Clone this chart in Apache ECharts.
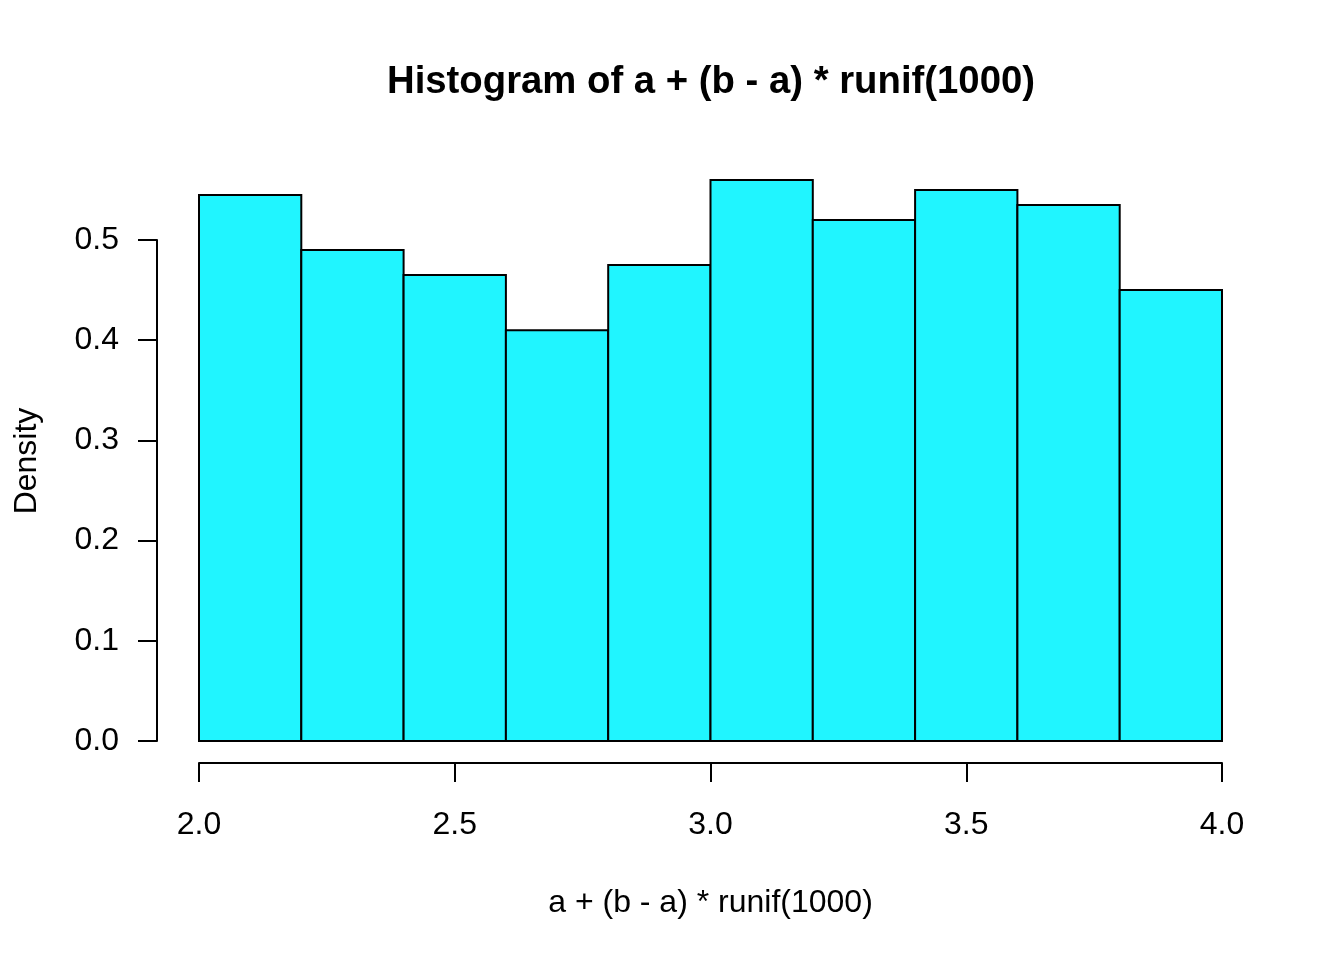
<!DOCTYPE html>
<html>
<head>
<meta charset="utf-8">
<script src="https://cdn.jsdelivr.net/npm/echarts@6/dist/echarts.min.js"></script>
<style>html,body{margin:0;padding:0;background:#fff;}#c{width:1344px;height:960px;}</style>
</head>
<body>
<div id="c"></div>
<script>
const breaksStart = [2.0, 2.2, 2.4, 2.6, 2.8, 3.0, 3.2, 3.4, 3.6, 3.8];
const breaksEnd   = [2.2, 2.4, 2.6, 2.8, 3.0, 3.2, 3.4, 3.6, 3.8, 4.0];
const density     = [0.545, 0.49, 0.465, 0.41, 0.475, 0.56, 0.52, 0.55, 0.535, 0.45];
const xTicks = [2.0, 2.5, 3.0, 3.5, 4.0];
const yTicks = [0.0, 0.1, 0.2, 0.3, 0.4, 0.5];
const titleText = 'Histogram of a + (b - a) * runif(1000)';
const xLabel = 'a + (b - a) * runif(1000)';
const yLabel = 'Density';

const FONT = "'Liberation Sans', Arial, Helvetica, sans-serif";
const chart = echarts.init(document.getElementById('c'), null, {renderer: 'canvas'});
const data = breaksStart.map((s, i) => [s, breaksEnd[i], density[i]]);

chart.setOption({
  backgroundColor: '#ffffff',
  animation: false,
  title: {
    text: titleText,
    left: 706,
    textAlign: 'center',
    top: 58,
    textStyle: {fontFamily: FONT, fontSize: 38.3, fontWeight: 'bold', color: '#000'}
  },
  grid: {left: 199, right: 122, top: 240, bottom: 219, containLabel: false},
  xAxis: {
    type: 'value',
    min: xTicks[0], max: xTicks[xTicks.length - 1], interval: 0.5,
    offset: 22,
    axisLine: {show: true, onZero: false, lineStyle: {color: '#000', width: 2}},
    axisTick: {show: true, inside: false, length: 19, lineStyle: {color: '#000', width: 2}},
    axisLabel: {margin: 46, fontFamily: FONT, fontSize: 32, color: '#000',
      formatter: v => v.toFixed(1)},
    splitLine: {show: false},
    name: xLabel, nameLocation: 'middle', nameGap: 124,
    nameTextStyle: {fontFamily: FONT, fontSize: 32, color: '#000'}
  },
  yAxis: {
    type: 'value',
    min: yTicks[0], max: yTicks[yTicks.length - 1], interval: 0.1,
    offset: 42,
    axisLine: {show: true, onZero: false, lineStyle: {color: '#000', width: 2}},
    axisTick: {show: true, inside: false, length: 19, lineStyle: {color: '#000', width: 2}},
    axisLabel: {margin: 38, fontFamily: FONT, fontSize: 32, color: '#000',
      padding: [4, 0, 0, 0],
      formatter: v => v.toFixed(1)},
    splitLine: {show: false}
  },
  graphic: [{
    type: 'text',
    x: 27, y: 461,
    rotation: Math.PI / 2,
    style: {text: yLabel, fontFamily: FONT, fontSize: 32, fill: '#000',
      textAlign: 'center', textVerticalAlign: 'middle'}
  }],
  series: [{
    type: 'custom',
    clip: false,
    data: data,
    encode: {x: [0, 1], y: 2},
    renderItem: function (params, api) {
      const p0 = api.coord([api.value(0), api.value(2)]);
      const p1 = api.coord([api.value(1), 0]);
      return {
        type: 'rect',
        shape: {x: p0[0], y: p0[1], width: p1[0] - p0[0], height: p1[1] - p0[1]},
        style: {fill: '#20F5FF', stroke: '#000', lineWidth: 2}
      };
    }
  }]
});
</script>
</body>
</html>
